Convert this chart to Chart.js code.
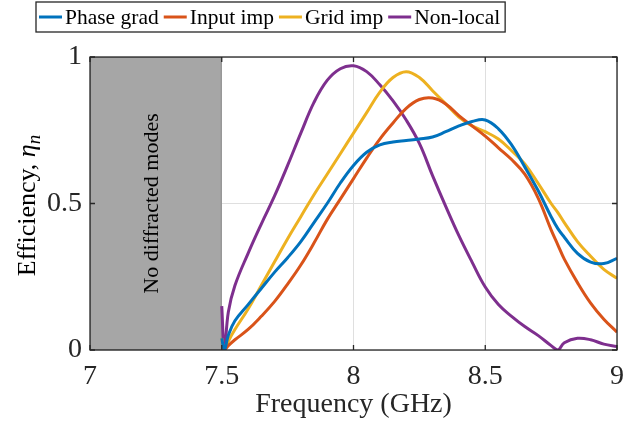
<!DOCTYPE html>
<html>
<head>
<meta charset="utf-8">
<script src="https://cdn.jsdelivr.net/npm/chart.js@4.4.1/dist/chart.umd.min.js"></script>
<style>
  html, body { margin: 0; padding: 0; background: #fff; }
  #wrap { width: 641px; height: 426px; }
</style>
</head>
<body>
<div id="wrap"><canvas id="eff" width="641" height="426"></canvas></div>
<script>
// frequency points (GHz)
const freq = [7.5, 7.51, 7.525, 7.55, 7.6, 7.65, 7.7, 7.75, 7.8, 7.85, 7.9, 7.95, 8.0, 8.05, 8.1, 8.15,
  8.2, 8.25, 8.3, 8.35, 8.4, 8.45, 8.5, 8.55, 8.6, 8.65, 8.7, 8.75, 8.775, 8.8, 8.85, 8.9, 8.95, 9.0];

const phaseGrad = [0.04, 0.0, 0.05, 0.10, 0.155, 0.21, 0.265, 0.315, 0.37, 0.435, 0.50, 0.57, 0.63, 0.675, 0.70, 0.71,
  0.715, 0.72, 0.727, 0.745, 0.765, 0.78, 0.785, 0.755, 0.70, 0.625, 0.545, 0.455, 0.415, 0.385, 0.33, 0.30, 0.295, 0.313];

const inputImp = [0.0, 0.0, 0.015, 0.035, 0.07, 0.115, 0.165, 0.225, 0.29, 0.365, 0.445, 0.515, 0.585, 0.655, 0.72, 0.775,
  0.825, 0.855, 0.86, 0.84, 0.80, 0.765, 0.73, 0.69, 0.65, 0.60, 0.52, 0.41, 0.36, 0.31, 0.23, 0.16, 0.105, 0.061];

const gridImp = [0.04, 0.0, 0.03, 0.07, 0.14, 0.22, 0.30, 0.38, 0.455, 0.53, 0.60, 0.67, 0.74, 0.81, 0.88, 0.93,
  0.95, 0.93, 0.885, 0.84, 0.795, 0.765, 0.745, 0.72, 0.68, 0.635, 0.57, 0.50, 0.47, 0.435, 0.37, 0.32, 0.275, 0.245];

const nonLocal = [0.15, 0.0, 0.13, 0.22, 0.33, 0.43, 0.525, 0.63, 0.74, 0.845, 0.92, 0.96, 0.97, 0.95, 0.905, 0.85,
  0.785, 0.705, 0.595, 0.49, 0.39, 0.30, 0.215, 0.155, 0.115, 0.08, 0.05, 0.015, 0.0, 0.025, 0.04, 0.035, 0.02, 0.012];

const seriesNames = ["Phase grad", "Input imp", "Grid imp", "Non-local"];
const seriesColors = ["#0072BD", "#D95319", "#EDB120", "#7E2F8E"];
const xTicks = [7, 7.5, 8, 8.5, 9];
const yTicks = [0, 0.5, 1];
const noModeRange = [7, 7.5];

const FONT = "'Liberation Serif', 'Times New Roman', serif";

const toPts = vals => vals.map((v, i) => ({ x: freq[i], y: v }));

// gray band, box, inward ticks, legend and y title
const framePlugin = {
  id: "frame",
  beforeDatasetsDraw(chart) {
    const { ctx, chartArea: a, scales: { x } } = chart;
    const x0 = x.getPixelForValue(noModeRange[0]);
    const x1 = x.getPixelForValue(noModeRange[1]);
    ctx.save();
    ctx.fillStyle = "#a6a6a6";
    ctx.fillRect(x0, a.top, x1 - x0, a.bottom - a.top);
    ctx.strokeStyle = "#8f8f8f";
    ctx.lineWidth = 1;
    ctx.strokeRect(x0 + 0.5, a.top + 0.5, x1 - x0 - 1, a.bottom - a.top - 1);
    ctx.translate((x0 + x1) / 2 + 2, (a.top + a.bottom) / 2);
    ctx.rotate(-Math.PI / 2);
    ctx.fillStyle = "#000";
    ctx.font = "22px " + FONT;
    ctx.textAlign = "center";
    ctx.textBaseline = "alphabetic";
    ctx.fillText("No diffracted modes", 0, 0);
    ctx.restore();
  },
  afterDatasetsDraw(chart) {
    const { ctx, chartArea: a, scales: { x, y } } = chart;
    ctx.save();
    ctx.strokeStyle = "#262626";
    ctx.lineWidth = 1.3;
    ctx.strokeRect(a.left, a.top, a.right - a.left, a.bottom - a.top);
    ctx.beginPath();
    const t = 5;
    xTicks.forEach(v => {
      const px = x.getPixelForValue(v);
      ctx.moveTo(px, a.bottom); ctx.lineTo(px, a.bottom - t);
      ctx.moveTo(px, a.top); ctx.lineTo(px, a.top + t);
    });
    yTicks.forEach(v => {
      const py = y.getPixelForValue(v);
      ctx.moveTo(a.left, py); ctx.lineTo(a.left + t, py);
      ctx.moveTo(a.right, py); ctx.lineTo(a.right - t, py);
    });
    ctx.stroke();
    ctx.restore();
  },
  afterDraw(chart) {
    const { ctx, chartArea: a } = chart;
    ctx.save();
    // legend
    ctx.font = "21.5px " + FONT;
    ctx.textBaseline = "middle";
    ctx.textAlign = "left";
    let lx = 39;
    const ly = 17;
    chart.data.datasets.forEach(ds => {
      ctx.strokeStyle = ds.borderColor;
      ctx.lineWidth = 3;
      ctx.beginPath();
      ctx.moveTo(lx, ly); ctx.lineTo(lx + 23, ly);
      ctx.stroke();
      ctx.fillStyle = "#000";
      ctx.fillText(ds.label, lx + 26, ly + 1);
      lx += 26 + ctx.measureText(ds.label).width + 5;
    });
    ctx.strokeStyle = "#262626";
    ctx.lineWidth = 1.3;
    ctx.strokeRect(36, 2, lx - 36, 30);

    // y title: Efficiency, eta_n
    ctx.translate(35, (a.top + a.bottom) / 2 + 2);
    ctx.rotate(-Math.PI / 2);
    ctx.textBaseline = "alphabetic";
    const main = "Efficiency, ";
    ctx.font = "26px " + FONT;
    const w1 = ctx.measureText(main).width;
    ctx.font = "italic 26px " + FONT;
    const w2 = ctx.measureText("\u03b7").width;
    ctx.font = "italic 19px " + FONT;
    const w3 = ctx.measureText("n").width;
    let sx = -(w1 + w2 + w3) / 2;
    ctx.fillStyle = "#000";
    ctx.font = "26px " + FONT;
    ctx.fillText(main, sx, 0);
    sx += w1;
    ctx.font = "italic 26px " + FONT;
    ctx.fillText("\u03b7", sx, 0);
    sx += w2;
    ctx.font = "italic 19px " + FONT;
    ctx.fillText("n", sx, 5);
    ctx.restore();
  }
};

const fmt = v => String(v);

new Chart(document.getElementById("eff"), {
  type: "line",
  data: {
    datasets: [phaseGrad, inputImp, gridImp, nonLocal].map((vals, i) => ({
      label: seriesNames[i],
      data: toPts(vals),
      borderColor: seriesColors[i],
      backgroundColor: seriesColors[i],
      borderWidth: 3,
      pointRadius: 0,
      fill: false,
      tension: 0.4
    }))
  },
  options: {
    responsive: false,
    animation: false,
    layout: { padding: { top: 57, right: 24, left: 0, bottom: 0 } },
    plugins: { legend: { display: false }, tooltip: { enabled: false } },
    scales: {
      x: {
        type: "linear",
        min: 7, max: 9,
        afterBuildTicks: s => { s.ticks = xTicks.map(v => ({ value: v })); },
        afterFit: s => { s.height = 76; },
        grid: { color: "#dfdfdf", drawTicks: false },
        border: { display: false },
        ticks: { color: "#262626", padding: 10, font: { family: FONT, size: 28 }, maxRotation: 0, callback: fmt },
        title: { display: true, text: "Frequency (GHz)", color: "#262626", padding: { top: 0, bottom: 5 },
          font: { family: FONT, size: 28 } }
      },
      y: {
        min: 0, max: 1,
        afterBuildTicks: s => { s.ticks = yTicks.map(v => ({ value: v })); },
        afterFit: s => { s.width = 90; },
        grid: { color: "#dfdfdf", drawTicks: false },
        border: { display: false },
        ticks: { color: "#262626", padding: 8, font: { family: FONT, size: 28 }, callback: fmt }
      }
    }
  },
  plugins: [framePlugin]
});
</script>
</body>
</html>
